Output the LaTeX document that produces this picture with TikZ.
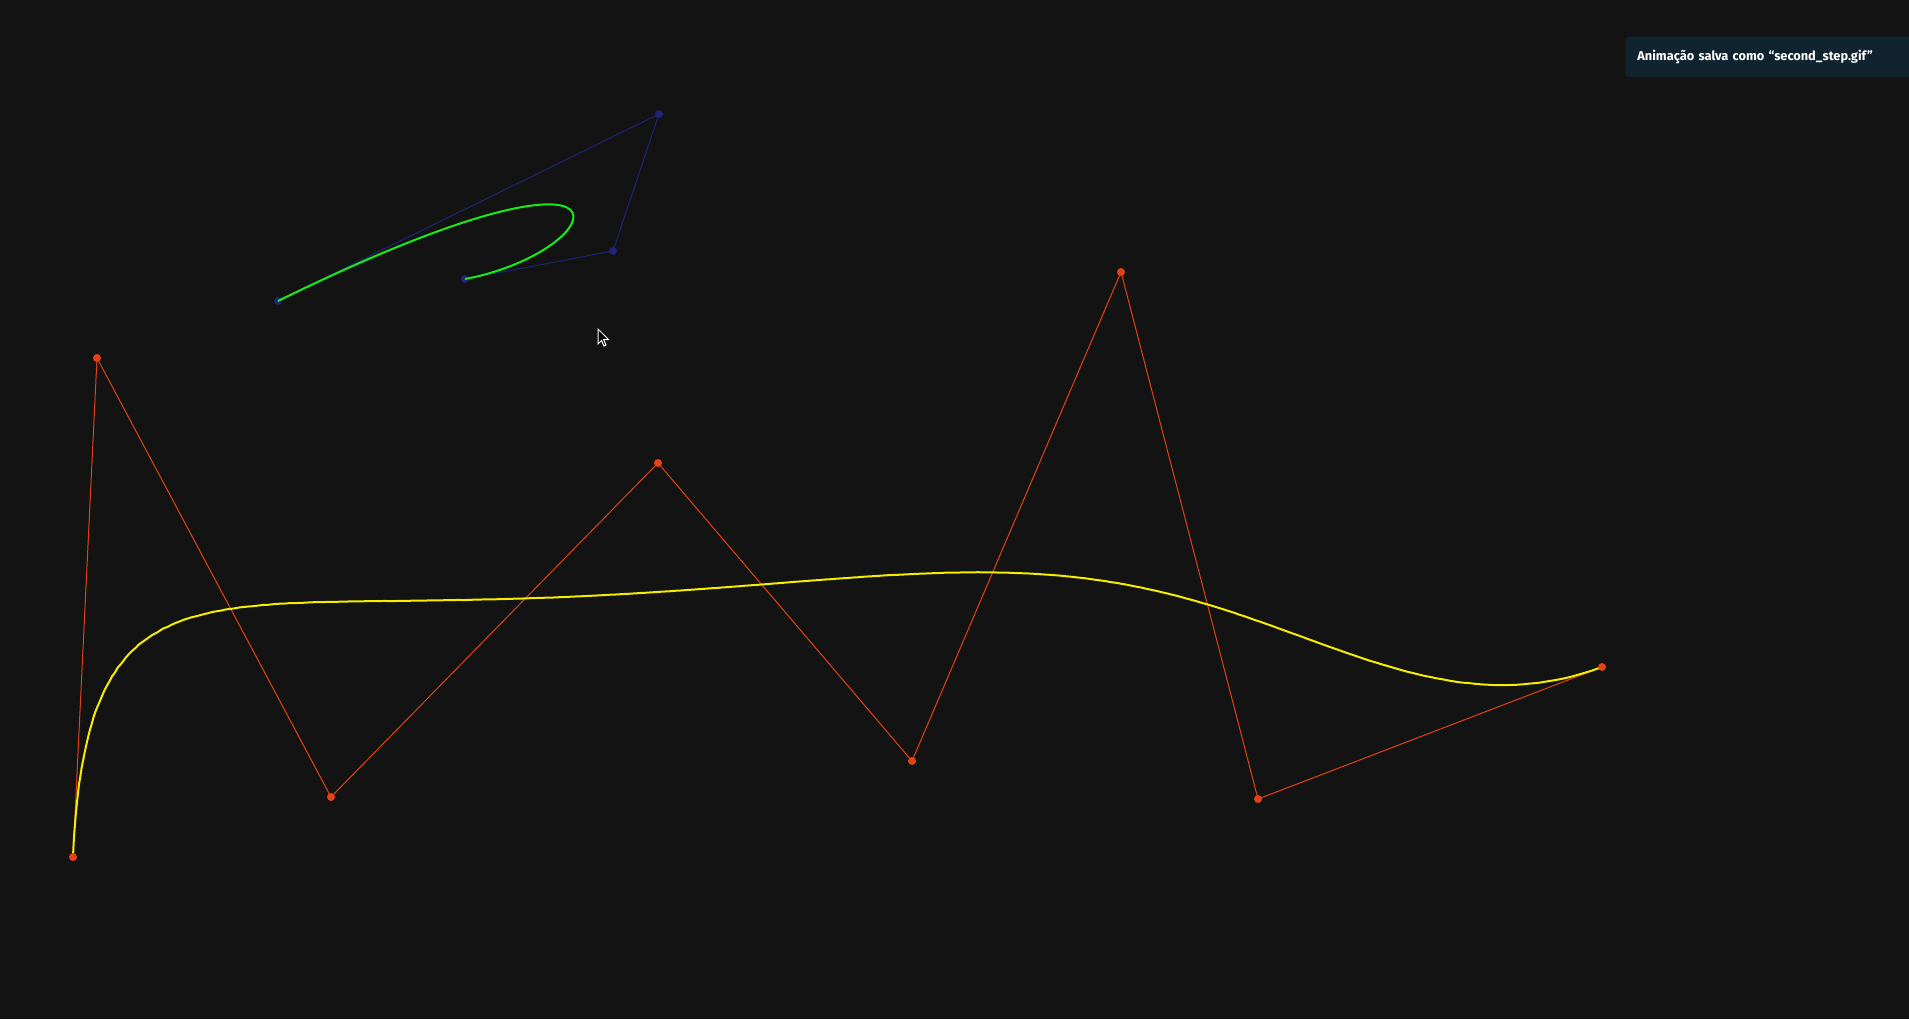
\documentclass[tikz,border=0pt]{standalone}
\usepackage{fontspec}
\setmainfont{Fira Sans}
\usepackage{tikz}
\usetikzlibrary{
    positioning
}
\definecolor{BgDark}{RGB}{19,19,19}
\definecolor{CtrlOrange}{RGB}{226,66,22}
\definecolor{CurveYellow}{RGB}{245,238,0}
\definecolor{CurveGreen}{RGB}{22,236,22}
\definecolor{CtrlBlue}{RGB}{30,36,118}
\definecolor{ToastBg}{RGB}{16,35,47}

\begin{document}
\begin{tikzpicture}[
    x=0.5pt, y=-0.5pt,
    ctrl/.style={circle, fill=#1, inner sep=0pt, minimum size=4pt},
    poly/.style={line width=0.5pt, color=#1},
    curve/.style={line width=1pt, color=#1},
    toast/.style={rectangle, fill=ToastBg, rounded corners=2pt, inner xsep=6pt, inner ysep=0pt, minimum height=20.5pt, text width=140pt, align=left, font=\fontsize{6.4}{7.5}\selectfont\bfseries, text=white},
]
\fill[BgDark] (0,0) rectangle (1909,1019);
\useasboundingbox (0,0) rectangle (1909,1019);

% control points
\coordinate (a0) at (73,857);
\coordinate (a1) at (97,358);
\coordinate (a2) at (331,797);
\coordinate (a3) at (658,463);
\coordinate (a4) at (912,761);
\coordinate (a5) at (1121,272);
\coordinate (a6) at (1258,799);
\coordinate (a7) at (1602,667);

\coordinate (b0) at (278,301);
\coordinate (b1) at (659,114);
\coordinate (b2) at (613,251);
\coordinate (b3) at (465,279);

% polygons
\draw[poly=CtrlOrange] (a0) -- (a1) -- (a2) -- (a3) -- (a4) -- (a5) -- (a6) -- (a7);
\draw[poly=CtrlBlue] (b0) -- (b1) -- (b2) -- (b3);

\foreach \p in {b0,b1,b2,b3}
    \node[ctrl=CtrlBlue] (dot-\p) at (\p) {};

% curves
\draw[curve=CurveYellow] plot[domain=0:1, samples=300, variable=\t]
  ({(1-\t)^7*73 + 7*\t*(1-\t)^6*97 + 21*\t^2*(1-\t)^5*331 + 35*\t^3*(1-\t)^4*658
    + 35*\t^4*(1-\t)^3*912 + 21*\t^5*(1-\t)^2*1121 + 7*\t^6*(1-\t)*1258 + \t^7*1602},
   {(1-\t)^7*857 + 7*\t*(1-\t)^6*358 + 21*\t^2*(1-\t)^5*797 + 35*\t^3*(1-\t)^4*463
    + 35*\t^4*(1-\t)^3*761 + 21*\t^5*(1-\t)^2*272 + 7*\t^6*(1-\t)*799 + \t^7*667});
\draw[curve=CurveGreen] (b0) .. controls (b1) and (b2) .. (b3);

\foreach \p in {a0,a1,a2,a3,a4,a5,a6,a7}
    \node[ctrl=CtrlOrange] (dot-\p) at (\p) {};

% cursor
\coordinate (cursor) at (598,329);
\draw[white, fill=black, line width=0.5pt, line join=miter]
  (cursor) -- ++(0,15) -- ++(3.5,-3.5) -- ++(2.5,5.5) -- ++(2,-1) -- ++(-2.5,-5.5) -- ++(5,0) -- cycle;

% toast
\node[toast, anchor=north west] (toast) at (1625,36) {Animação salva como “second\_step.gif”};
\end{tikzpicture}
\end{document}
